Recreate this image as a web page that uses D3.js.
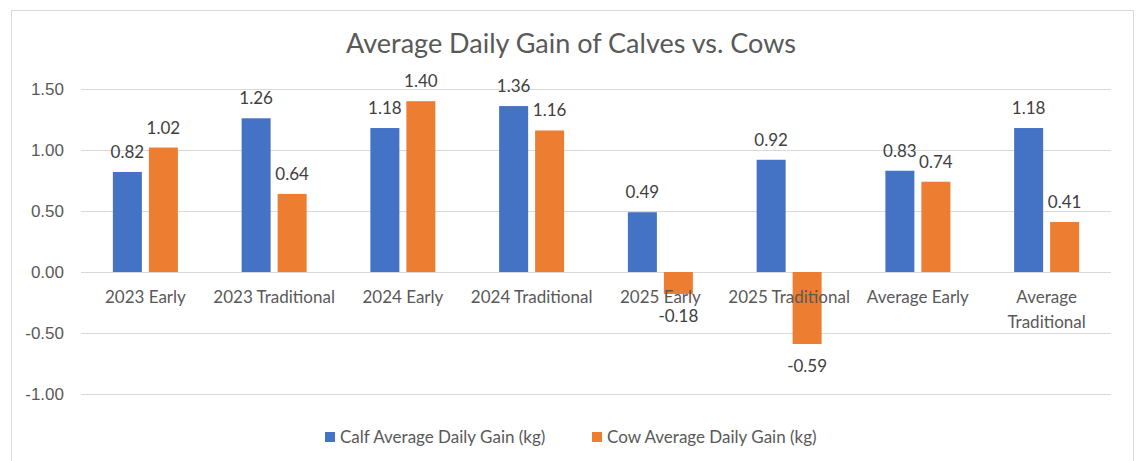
<!DOCTYPE html>
<html>
<head>
<meta charset="utf-8">
<script src="https://cdn.jsdelivr.net/npm/d3@7"></script>
<style>
  body { margin: 0; background: #fff; }
  svg { font-family: Lato, "Noto Sans", sans-serif; }
  .tick text { fill: #595959; }
</style>
</head>
<body>
<svg></svg>
<script>
const categories = ["2023 Early", "2023 Traditional", "2024 Early", "2024 Traditional",
  "2025 Early", "2025 Traditional", "Average Early", "Average Traditional"];
const seriesNames = ["Calf Average Daily Gain (kg)", "Cow Average Daily Gain (kg)"];
const calfValues = [0.82, 1.26, 1.18, 1.36, 0.49, 0.92, 0.83, 1.18];
const cowValues = [1.02, 0.64, 1.40, 1.16, -0.18, -0.59, 0.74, 0.41];
const yTicks = [1.5, 1.0, 0.5, 0.0, -0.5, -1.0];
const colors = ["#4472C4", "#ED7D31"];

const width = 1138;
const height = 461;
const svg = d3.select("svg").attr("width", width).attr("height", height);

// hyphen minus like Excel
const fmt = (v) => v.toFixed(2);

// chart frame
svg.append("rect")
  .attr("x", 11.5).attr("y", 10.5)
  .attr("width", 1122).attr("height", 470)
  .attr("fill", "#fff").attr("stroke", "#d9d9d9");

const margin = { left: 81, right: 27, top: 89, bottom: 67 };

const yScale = d3.scaleLinear().domain([-1, 1.5]).range([394, 89]);
const x0 = d3.scaleBand().domain(categories).range([margin.left, width - margin.right]);
const x1 = d3.scaleBand().domain([0, 1]).range([0, 65]).paddingInner(7 / 36);

// gridlines + y labels
const yAxis = d3.axisLeft(yScale)
  .tickValues(yTicks)
  .tickFormat(fmt)
  .tickSize(-(x0.range()[1] - x0.range()[0]))
  .tickPadding(17);

const yAxisG = svg.append("g")
  .attr("transform", `translate(${margin.left}, 0)`)
  .call(yAxis);
yAxisG.select(".domain").remove();
yAxisG.selectAll(".tick line").attr("stroke", "#d9d9d9");
yAxisG.selectAll(".tick text").attr("font-size", 17);

// title
svg.append("text")
  .attr("x", 571).attr("y", 53)
  .attr("text-anchor", "middle")
  .attr("font-size", 27)
  .attr("fill", "#595959")
  .text("Average Daily Gain of Calves vs. Cows");

const data = categories.map((c, i) => ({ cat: c, values: [calfValues[i], cowValues[i]] }));

const groups = svg.selectAll(".group")
  .data(data)
  .enter()
  .append("g")
  .attr("class", "group")
  .attr("transform", (d) => `translate(${x0(d.cat) + x0.bandwidth() / 2 - 32.5}, 0)`);

const bars = groups.selectAll("g.bar")
  .data((d) => d.values.map((v, s) => ({ v, s })))
  .enter()
  .append("g")
  .attr("class", "bar");

bars.append("rect")
  .attr("x", (d) => x1(d.s))
  .attr("width", x1.bandwidth())
  .attr("y", (d) => yScale(Math.max(0, d.v)))
  .attr("height", (d) => Math.abs(yScale(d.v) - yScale(0)))
  .attr("fill", (d) => colors[d.s]);

bars.append("text")
  .attr("x", (d) => x1(d.s) + x1.bandwidth() / 2)
  .attr("y", (d) => d.v >= 0 ? yScale(d.v) - 14 : yScale(d.v) + 28)
  .attr("text-anchor", "middle")
  .attr("font-size", 17)
  .attr("fill", "#404040")
  .text((d) => fmt(d.v));

// category labels (wrapped when wider than the band)
const catG = svg.append("g");
categories.forEach((c) => {
  const t = catG.append("text")
    .attr("x", x0(c) + x0.bandwidth() / 2)
    .attr("y", 303)
    .attr("text-anchor", "middle")
    .attr("font-size", 17)
    .attr("fill", "#595959")
    .text(c);
  if (t.node().getComputedTextLength() > x0.bandwidth() + 4) {
    const words = c.split(" ");
    t.text(null);
    words.forEach((w, i) => {
      t.append("tspan")
        .attr("x", x0(c) + x0.bandwidth() / 2)
        .attr("dy", i === 0 ? 0 : 25)
        .text(w);
    });
  }
});

// legend
const legendX = [325, 592];
const legend = svg.selectAll(".legend")
  .data(seriesNames)
  .enter()
  .append("g")
  .attr("class", "legend")
  .attr("transform", (d, i) => `translate(${legendX[i]}, 437)`);
legend.append("rect")
  .attr("x", 0).attr("y", -5)
  .attr("width", 10).attr("height", 10)
  .attr("fill", (d, i) => colors[i]);
legend.append("text")
  .attr("x", 15).attr("y", 6)
  .attr("font-size", 17)
  .attr("fill", "#595959")
  .text((d) => d);
</script>
</body>
</html>
